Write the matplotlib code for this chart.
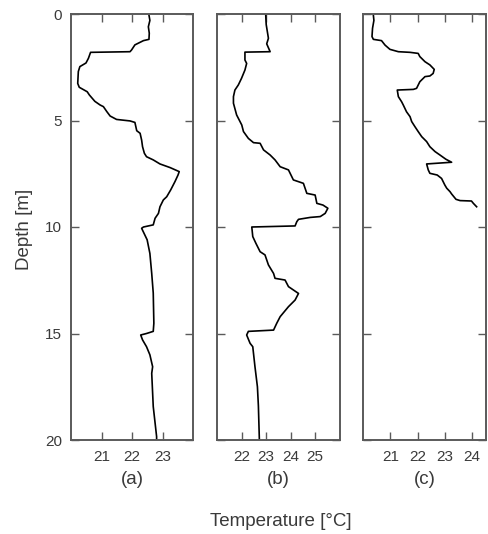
import matplotlib
matplotlib.use("Agg")
import matplotlib.pyplot as plt

plt.rcParams['font.family'] = ['Liberation Sans', 'DejaVu Sans']

# Panel (a)
depth_a = [0.05, 0.3, 0.6, 0.9, 1.19, 1.25, 1.45, 1.69, 1.77, 1.8, 2.08, 2.3, 2.47, 2.7, 3.26, 3.44,
           3.65, 3.8, 4.1, 4.27, 4.35, 4.58, 4.79, 4.95, 5.02, 5.09, 5.48, 5.6, 5.92, 6.23, 6.54,
           6.7, 6.85, 7.04, 7.21, 7.4, 7.56, 7.87, 8.26, 8.58, 8.73, 9.05, 9.36, 9.59, 9.9, 10.0,
           10.06, 10.6, 11.24, 12.18, 13.1, 14.52, 14.9, 15.0, 15.07, 15.3, 15.62, 16.0, 16.56,
           16.87, 18.43, 19.2, 19.84, 20.0]
temp_a = [22.55, 22.58, 22.53, 22.56, 22.55, 22.37, 22.09, 21.98, 21.93, 20.64, 20.57, 20.49, 20.29,
          20.24, 20.22, 20.27, 20.53, 20.6, 20.78, 20.95, 21.06, 21.17, 21.28, 21.49, 21.93, 22.09,
          22.15, 22.26, 22.31, 22.34, 22.4, 22.47, 22.69, 22.91, 23.24, 23.54, 23.5, 23.4, 23.26,
          23.13, 23.02, 22.91, 22.86, 22.75, 22.69, 22.37, 22.31, 22.49, 22.58, 22.64, 22.69, 22.71,
          22.69, 22.47, 22.28, 22.34, 22.47, 22.58, 22.67, 22.64, 22.69, 22.75, 22.8, 22.8]

# Panel (b)
depth_b = [0.05, 0.5, 1.14, 1.4, 1.77, 1.79, 2.16, 2.32, 2.63, 3.02, 3.33, 3.57, 3.88, 4.19, 4.74,
           5.21, 5.52, 5.84, 6.04, 6.07, 6.38, 6.62, 6.85, 7.17, 7.32, 7.79, 7.95, 8.42, 8.5, 8.89,
           8.97, 9.12, 9.36, 9.51, 9.55, 9.64, 9.75, 9.95, 10.0, 10.45, 10.77, 11.16, 11.31, 11.78,
           12.18, 12.41, 12.49, 12.8, 13.12, 13.43, 13.74, 14.21, 14.52, 14.84, 14.9, 15.07, 15.46,
           15.62, 16.56, 17.5, 18.4, 20.0]
temp_b = [22.98, 23.0, 23.09, 23.02, 23.16, 22.13, 22.13, 22.2, 22.13, 21.99, 21.86, 21.72, 21.66,
          21.66, 21.79, 22.0, 22.07, 22.27, 22.48, 22.75, 22.89, 23.16, 23.36, 23.57, 23.91, 24.11,
          24.52, 24.66, 25.0, 25.07, 25.32, 25.52, 25.41, 25.21, 24.8, 24.32, 24.25, 24.18, 22.41,
          22.45, 22.58, 22.75, 22.95, 23.09, 23.3, 23.36, 23.77, 23.91, 24.32, 24.18, 23.91, 23.57,
          23.43, 23.3, 22.27, 22.2, 22.34, 22.45, 22.54, 22.64, 22.68, 22.72]

# Panel (c)
depth_c = [0.05, 0.3, 0.67, 1.06, 1.19, 1.25, 1.46, 1.66, 1.77, 1.8, 1.85, 2.0, 2.24, 2.39, 2.6,
           2.79, 2.91, 2.94, 3.18, 3.49, 3.54, 3.57, 3.88, 4.12, 4.27, 4.59, 4.82, 5.05, 5.29, 5.52,
           5.76, 5.99, 6.23, 6.46, 6.62, 6.82, 6.96, 7.04, 7.32, 7.48, 7.56, 7.72, 8.03, 8.18, 8.34,
           8.45, 8.7, 8.76, 8.78, 8.89, 9.05]
temp_c = [20.37, 20.39, 20.34, 20.32, 20.37, 20.67, 20.8, 20.98, 21.29, 21.72, 22.02, 22.08, 22.27,
          22.45, 22.61, 22.57, 22.45, 22.27, 22.08, 21.96, 21.84, 21.25, 21.29, 21.41, 21.47, 21.59,
          21.72, 21.78, 21.9, 22.02, 22.15, 22.33, 22.45, 22.64, 22.82, 23.04, 23.25, 22.33, 22.39,
          22.45, 22.72, 22.88, 23.0, 23.07, 23.19, 23.25, 23.41, 23.56, 23.98, 24.05, 24.17]

panels = [
    ("(a)", depth_a, temp_a, (20, 24), [21, 22, 23]),
    ("(b)", depth_b, temp_b, (21, 26), [22, 23, 24, 25]),
    ("(c)", depth_c, temp_c, (20, 24.5), [21, 22, 23, 24]),
]
yticks = [0, 5, 10, 15, 20]

W, H = 488, 534
fig = plt.figure(figsize=(W / 100, H / 100), dpi=100)
lefts = [71, 217.3, 363.3]
axw = 122.3
top_px, bot_px = 14, 440
spine_col = '#5a5a5a'
text_col = '#3a3a3a'

for i, (lab, d, t, xl, xt) in enumerate(panels):
    ax = fig.add_axes([lefts[i] / W, (H - bot_px) / H, axw / W, (bot_px - top_px) / H])
    ax.plot(t, d, color='black', lw=1.2)
    ax.set_xlim(*xl)
    ax.set_ylim(20, 0)
    ax.set_xticks(xt)
    ax.set_yticks(yticks)
    ax.tick_params(direction='in', length=6, width=1.0, color=spine_col,
                   top=True, right=True, labelsize=11, labelcolor=text_col)
    ax.tick_params(axis='x', pad=7.5)
    ax.tick_params(axis='y', pad=6.5)
    if i > 0:
        ax.set_yticklabels([])
    for s in ax.spines.values():
        s.set_color(spine_col)
        s.set_linewidth(1.4)
    cx = (lefts[i] + axw / 2) / W
    fig.text(cx, 1 - 480 / H, lab, ha='center', va='center', fontsize=13.5, color=text_col)

fig.text(24.5 / W, 1 - 229 / H, "Depth [m]", ha='center', va='center', rotation=90,
         fontsize=13.5, color=text_col)
fig.text(280.5 / W, 1 - 521 / H, "Temperature [°C]", ha='center', va='center',
         fontsize=13.5, color=text_col)

fig.savefig("out.png", dpi=100)
